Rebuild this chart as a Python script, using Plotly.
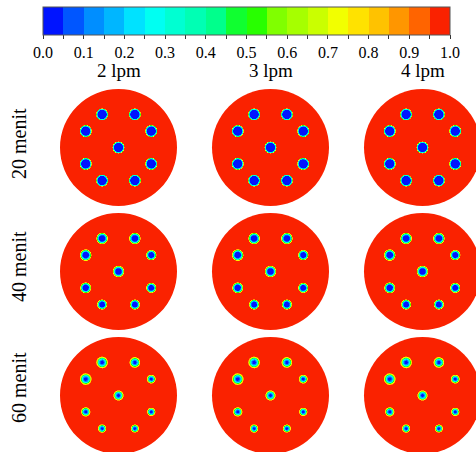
import numpy as np
import plotly.graph_objects as go

# ---------------- data ----------------
col_labels = ['2 lpm', '3 lpm', '4 lpm']
row_labels = ['20 menit', '40 menit', '60 menit']

cbar_tickvals = [round(0.05 * i, 2) for i in range(21)]
cbar_ticktext = [f'{v:.1f}' if i % 2 == 0 else '' for i, v in enumerate(cbar_tickvals)]

band_colors = ['#0014ff', '#0056ff', '#008eff', '#00b6ff', '#00e2ff',
               '#00fff2', '#00ffd2', '#00ffb4', '#00ff8c', '#10ff30',
               '#28ff00', '#80ff00', '#a6ff00', '#caff00', '#f2ff00',
               '#ffe200', '#ffc200', '#ff9600', '#ff6400', '#fa2200']

# hole centres, in units of the disk radius
hole_x = [-0.28, 0.28, -0.56, 0.56, 0.0, -0.56, 0.56, -0.28, 0.28]
hole_y = [0.565, 0.565, 0.28, 0.28, 0.0, -0.28, -0.28, -0.565, -0.565]

# radial profiles of the hole value (radius in px, value)
profile_r_20 = [0.0, 4.3, 5.0, 5.6, 6.1]
profile_v_20 = [0.0, 0.02, 0.28, 0.45, 1.0]
profile_r_40 = [0.0, 2.8, 3.6, 4.4, 5.2, 6.0]
profile_v_40 = [0.0, 0.03, 0.15, 0.35, 0.62, 1.0]
profile_r_60 = [0.0, 1.5, 3.0, 4.2, 5.2, 6.3]
profile_v_60 = [0.0, 0.05, 0.2, 0.45, 0.75, 1.0]

hole_scale_20 = [1.0, 1.0, 1.0, 1.0, 1.0, 1.0, 1.0, 1.0, 1.0]
hole_scale_40 = [1.0, 1.0, 1.0, 0.9, 1.0, 0.95, 0.88, 0.88, 0.88]
hole_scale_60 = [1.0, 0.92, 1.0, 0.76, 0.88, 0.8, 0.72, 0.72, 0.7]

profiles = [(profile_r_20, profile_v_20, hole_scale_20),
            (profile_r_40, profile_v_40, hole_scale_40),
            (profile_r_60, profile_v_60, hole_scale_60)]

# ---------------- layout geometry (px) ----------------
W, H = 476, 452
R = 58.5
col_cx = [118.5, 270.5, 422.5]
row_cy = [147.5, 271.5, 395.5]
half = 60

colorscale = []
for i, c in enumerate(band_colors):
    colorscale.append([i / 20, c])
    colorscale.append([(i + 1) / 20, c])

fig = go.Figure()
layout_axes = {}
shapes = []

g = np.arange(-half, half + 1, dtype=float)  # px offsets
GX, GY = np.meshgrid(g, g)

k = 0
for ri, cy in enumerate(row_cy):
    pr, pv, scales = profiles[ri]
    for ci, cx in enumerate(col_cx):
        k += 1
        xn = 'x' if k == 1 else f'x{k}'
        yn = 'y' if k == 1 else f'y{k}'
        xa = 'xaxis' if k == 1 else f'xaxis{k}'
        ya = 'yaxis' if k == 1 else f'yaxis{k}'

        field = np.ones_like(GX)
        for hx, hy, s in zip(hole_x, hole_y, scales):
            d = np.sqrt((GX - hx * R) ** 2 + (GY - hy * R) ** 2) / s
            field = np.minimum(field, np.interp(d, pr, pv, right=1.0))
        field[field >= 0.95] = np.nan
        field[np.sqrt(GX ** 2 + GY ** 2) > R] = np.nan

        fig.add_trace(go.Heatmap(
            x=g / R, y=g / R, z=field, zmin=0, zmax=1,
            colorscale=colorscale, zsmooth=False, hoverinfo='skip',
            showscale=(k == 1), xaxis=xn, yaxis=yn,
            colorbar=dict(
                orientation='h', x=246.5 / W, xanchor='center',
                y=1 - 6.7 / H, yanchor='top', len=407 / W, lenmode='fraction',
                thickness=28, thicknessmode='pixels', xpad=0, ypad=0,
                outlinewidth=1, outlinecolor='#555555',
                tickmode='array', tickvals=cbar_tickvals, ticktext=cbar_ticktext,
                ticks='outside', ticklen=4, tickwidth=1, tickcolor='#333333',
                tickfont=dict(family='Liberation Serif', size=16, color='black'),
            ),
        ))

        x0p, x1p = max(0, cx - half), min(W, cx + half)
        y0p, y1p = max(0, cy - half), min(H, cy + half)
        layout_axes[xa] = dict(domain=[x0p / W, x1p / W],
                               range=[(x0p - cx) / R, (x1p - cx) / R],
                               visible=False, anchor=yn, fixedrange=True)
        layout_axes[ya] = dict(domain=[1 - y1p / H, 1 - y0p / H],
                               range=[-(y1p - cy) / R, (cy - y0p) / R],
                               visible=False, anchor=xn, fixedrange=True)
        shapes.append(dict(type='circle', xref=xn, yref=yn, x0=-1, x1=1, y0=-1, y1=1,
                           fillcolor=band_colors[-1], line=dict(width=0), layer='below'))

annotations = []
for lab, cx in zip(col_labels, col_cx):
    annotations.append(dict(text=lab, x=cx / W, y=1 - 71 / H, xref='paper', yref='paper',
                            xanchor='center', yanchor='middle', showarrow=False,
                            font=dict(family='Liberation Serif', size=19, color='black')))
for lab, cy in zip(row_labels, [144, 267, 388]):
    annotations.append(dict(text=lab, x=19 / W, y=1 - cy / H, xref='paper', yref='paper',
                            xanchor='center', yanchor='middle', showarrow=False, textangle=-90,
                            font=dict(family='Liberation Serif', size=20, color='black')))

fig.update_layout(width=W, height=H, margin=dict(l=0, r=0, t=0, b=0, autoexpand=False),
                  paper_bgcolor='white', plot_bgcolor='white', showlegend=False,
                  shapes=shapes, annotations=annotations, **layout_axes)

fig.write_html('out.html', config={'displayModeBar': False},
               post_script="document.body.style.margin='0';")
